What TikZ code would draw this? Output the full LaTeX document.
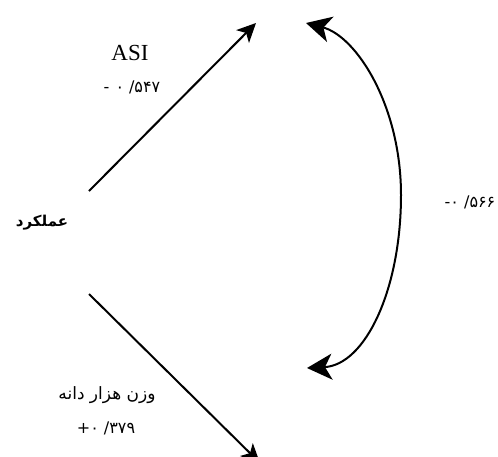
\documentclass[tikz,border=0pt]{standalone}
\usepackage{fontspec}
\setmainfont{Liberation Serif}
\newfontfamily\fafont[Script=Arabic]{DejaVu Sans}
\newfontfamily\digfont{DejaVu Sans}
\TeXXeTstate=1
\usetikzlibrary{arrows.meta}

\tikzset{
  link/.style={line width=2pt, -{Stealth[length=19pt,width=18pt,inset=5pt]}},
  corr/.style={line width=2pt,
    {Stealth[length=25pt,width=26pt,inset=7pt]}-{Stealth[length=25pt,width=26pt,inset=7pt]}},
  coef/.style={font=\digfont\fontsize{16}{18}\selectfont, inner sep=0pt},
  trait/.style={font=\fafont\fontsize{17}{19}\selectfont, inner sep=0pt},
}

\begin{document}
\begin{tikzpicture}[x=1pt,y=-1pt]
  \useasboundingbox (0,0) rectangle (498,456);
  \clip (0,0) rectangle (498,456);

  % end points of the paths
  \coordinate (asiFrom) at (89,191);
  \coordinate (asiTo)   at (256,23);
  \coordinate (twFrom)  at (89,294);
  \coordinate (twTo)    at (260,463);
  \coordinate (cTop)    at (306,23);
  \coordinate (cMid)    at (401,195);
  \coordinate (cBot)    at (307,368);

  % labels
  \node[trait, font=\fafont\bfseries\fontsize{15}{17}\selectfont] (yield) at (42,223) {\beginR عملکرد\endR};
  \node[inner sep=0pt, font=\fontsize{23}{26}\selectfont, anchor=base] (asi) at (130,60.5) {ASI};
  \node[coef] (asiC) at (132,87) {-\hspace{6pt}۰\hspace{5pt}/۵۴۷};
  \node[coef] (corrC) at (470,202) {-۰\ /۵۶۶};
  \node[trait] (tkw) at (107,395) {\beginR وزن هزار دانه\endR};
  \node[coef] (tkwC) at (106,428) {+۰\ /۳۷۹};

  % direct paths
  \draw[link] (asiFrom) -- (asiTo);
  \draw[link] (twFrom) -- (twTo);

  % correlation between the two traits
  \draw[corr] (cTop) .. controls (356,36) and (401,105) .. (cMid)
                    .. controls (401,290) and (365,365) .. (cBot);
\end{tikzpicture}
\end{document}
